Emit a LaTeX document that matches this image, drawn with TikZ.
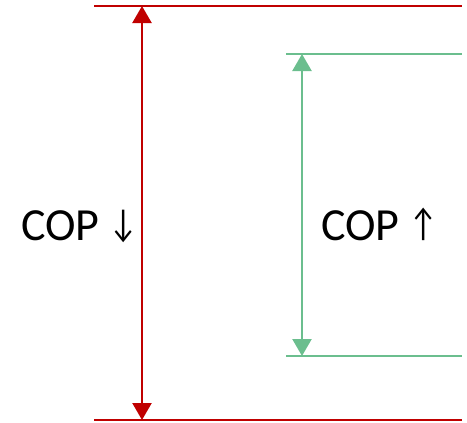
\documentclass[tikz,border=0pt]{standalone}
\usepackage{fontspec}
\setmainfont{Carlito}
\usetikzlibrary{arrows.meta}
\definecolor{cred}{RGB}{192,0,0}
\definecolor{cgreen}{RGB}{107,190,142}
\newcommand{\arrowglyph}[1]{{\fontsize{39}{39}\selectfont\raisebox{4pt}{\scalebox{0.8}[1]{#1}}}}
\begin{document}
\begin{tikzpicture}[x=1pt,y=-1pt,
  lim/.style={line width=2.4pt},
  dim/.style={line width=2.4pt,{Triangle[width=19pt,length=17pt]}-{Triangle[width=19pt,length=17pt]}},
  lbl/.style={font=\fontsize{46}{54}\selectfont,inner sep=0pt,anchor=base west}]
\useasboundingbox (0,0) rectangle (467,423);
\coordinate (r1a) at (94,6); \coordinate (r1b) at (462,6);
\coordinate (r2a) at (94,420); \coordinate (r2b) at (462,420);
\coordinate (g1a) at (286,54); \coordinate (g1b) at (462,54);
\coordinate (g2a) at (286,356); \coordinate (g2b) at (462,356);
\coordinate (rt) at (142,6); \coordinate (rb) at (142,420);
\coordinate (gt) at (302,54); \coordinate (gb) at (302,356);
\draw[lim,cred] (r1a) -- (r1b);
\draw[lim,cred] (r2a) -- (r2b);
\draw[lim,cgreen] (g1a) -- (g1b);
\draw[lim,cgreen] (g2a) -- (g2b);
\draw[dim,cred] (rt) -- (rb);
\draw[dim,cgreen] (gt) -- (gb);
\node[lbl] (t1) at (21,240) {COP \arrowglyph{↓}};
\node[lbl] (t2) at (321,240) {COP \arrowglyph{↑}};
\end{tikzpicture}
\end{document}
